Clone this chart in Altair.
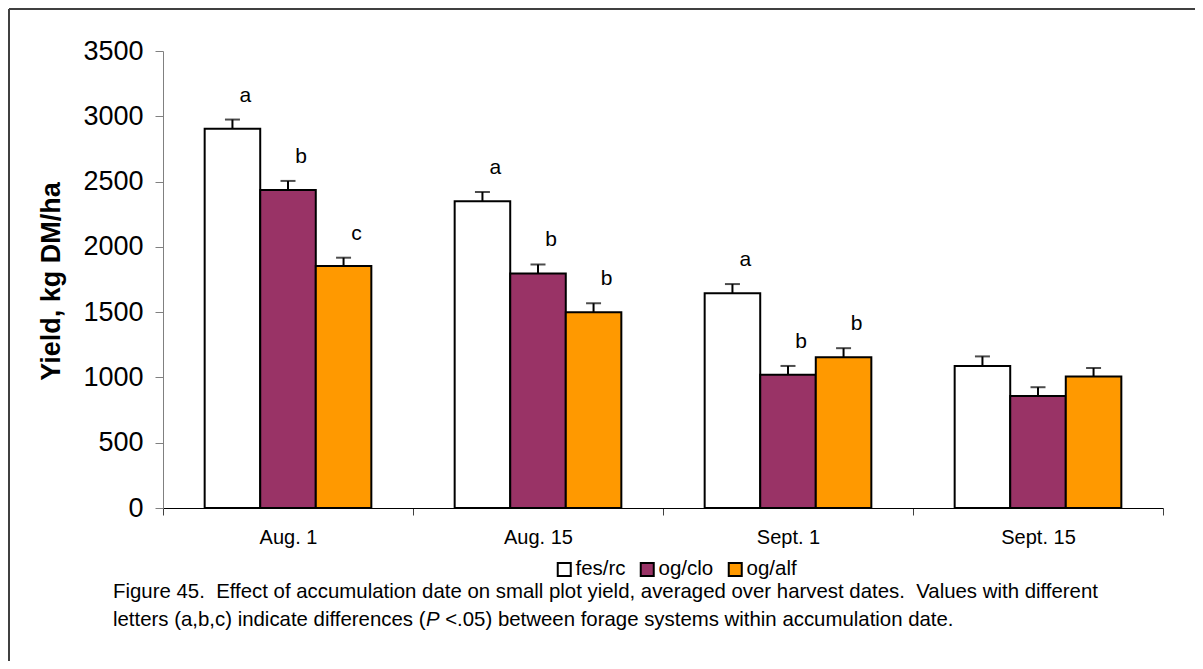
import altair as alt
import pandas as pd

# ---------------- data ----------------
categories = ["Aug. 1", "Aug. 15", "Sept. 1", "Sept. 15"]
systems = ["fes/rc", "og/clo", "og/alf"]
fes_rc = [2905, 2350, 1645, 1087]
og_clo = [2435, 1795, 1020, 858]
og_alf = [1853, 1500, 1155, 1007]
fes_rc_se = [70, 70, 70, 74]
og_clo_se = [70, 70, 68, 67]
og_alf_se = [64, 68, 69, 65]
fes_rc_letters = ["a", "a", "a", ""]
og_clo_letters = ["b", "b", "b", ""]
og_alf_letters = ["c", "b", "b", ""]
colors = ["#FFFFFF", "#993366", "#FF9900"]
y_ticks = [0, 500, 1000, 1500, 2000, 2500, 3000, 3500]
y_title = "Yield, kg DM/ha"
NB2 = "\u00a0 "
caption_1 = ("Figure 45." + NB2 + "Effect of accumulation date on small plot yield, "
             "averaged over harvest dates." + NB2 + "Values with different")
caption_2a = "letters (a,b,c) indicate differences ("
caption_2b = "P"
caption_2c = "<.05) between forage systems within accumulation date."

rows = []
for s, vals, errs, lets in zip(systems, [fes_rc, og_clo, og_alf],
                               [fes_rc_se, og_clo_se, og_alf_se],
                               [fes_rc_letters, og_clo_letters, og_alf_letters]):
    for c, v, e, l in zip(categories, vals, errs, lets):
        rows.append(dict(date=c, system=s, yld=v, hi=v + e, letter=l))
df = pd.DataFrame(rows)

FONT = "Liberation Sans"
W, H = 1000, 457
CAP_FS = 20.4

base = alt.Chart(df).encode(
    x=alt.X("date:N", sort=categories,
            scale=alt.Scale(paddingInner=0, paddingOuter=0),
            axis=alt.Axis(title=None, labelAngle=0, labelFont=FONT, labelFontSize=20,
                          labelColor="black", tickBand="extent", tickSize=7,
                          tickColor="#404040", domainColor="black", labelPadding=12)),
    xOffset=alt.XOffset("system:N", sort=systems,
                        scale=alt.Scale(paddingInner=0, paddingOuter=0.75)),
)

bars = base.mark_bar(stroke="black", strokeWidth=2).encode(
    y=alt.Y("yld:Q", title=y_title,
            scale=alt.Scale(domain=[0, 3500], nice=False),
            axis=alt.Axis(values=y_ticks, format="d", grid=False, labelFont=FONT,
                          labelFontSize=27, labelColor="black", tickSize=8,
                          tickColor="#808080", domainColor="#808080", labelPadding=12,
                          titleFont=FONT, titleFontSize=27, titleFontWeight="bold",
                          titleColor="black", titleX=-112, titleY=230, titleAngle=270,
                          titleAlign="center", titleBaseline="middle")),
    fill=alt.Fill("system:N", sort=systems,
                  scale=alt.Scale(domain=systems, range=colors),
                  legend=alt.Legend(title=None, orient="none", legendX=391, legendY=508,
                                    direction="horizontal", symbolType="square",
                                    symbolSize=169, symbolStrokeColor="black",
                                    symbolStrokeWidth=2, labelFont=FONT, labelFontSize=20.5,
                                    labelColor="black", labelOffset=1, columnPadding=10,
                                    padding=0)),
)
stems = base.mark_rule(color="black", strokeWidth=2).encode(y="yld:Q", y2="hi:Q")
caps = base.mark_tick(color="black", thickness=2, size=15, orient="horizontal").encode(y="hi:Q")
letters = base.mark_text(font=FONT, fontSize=21, dx=13, dy=-18, baseline="alphabetic",
                         color="black").encode(y="hi:Q", text="letter:N")

one = pd.DataFrame({"k": [0]})
deco = alt.Chart(one)
border_top = deco.mark_rule(color="#404040", strokeWidth=2).encode(
    x=alt.value(-154), x2=alt.value(1032), y=alt.value(-42))
border_left = deco.mark_rule(color="#404040", strokeWidth=2).encode(
    x=alt.value(-154), y=alt.value(-42), y2=alt.value(610))

x0 = -50
seg1_w = 15.339 * CAP_FS
p_w = 0.667 * CAP_FS
sp_w = 0.278 * CAP_FS
cap1 = deco.mark_text(font=FONT, fontSize=CAP_FS, align="left", baseline="middle",
                      color="black").encode(x=alt.value(x0), y=alt.value(541),
                                            text=alt.value(caption_1))
cap2a = deco.mark_text(font=FONT, fontSize=CAP_FS, align="left", baseline="middle",
                       color="black").encode(x=alt.value(x0), y=alt.value(569),
                                             text=alt.value(caption_2a))
cap2b = deco.mark_text(font=FONT, fontSize=CAP_FS, align="left", baseline="middle",
                       fontStyle="italic", color="black").encode(
    x=alt.value(x0 + seg1_w), y=alt.value(569), text=alt.value(caption_2b))
cap2c = deco.mark_text(font=FONT, fontSize=CAP_FS, align="left", baseline="middle",
                       color="black").encode(x=alt.value(x0 + seg1_w + p_w + sp_w),
                                             y=alt.value(569), text=alt.value(caption_2c))

chart = alt.layer(bars, stems, caps, letters, border_top, border_left,
                  cap1, cap2a, cap2b, cap2c).properties(
    width=W, height=H,
    padding={"left": 155, "top": 43, "right": 32, "bottom": 153},
    autosize=alt.AutoSizeParams(type="none"),
).configure_view(strokeWidth=0)

chart.save("out.html", embed_options={"renderer": "svg", "actions": False})
